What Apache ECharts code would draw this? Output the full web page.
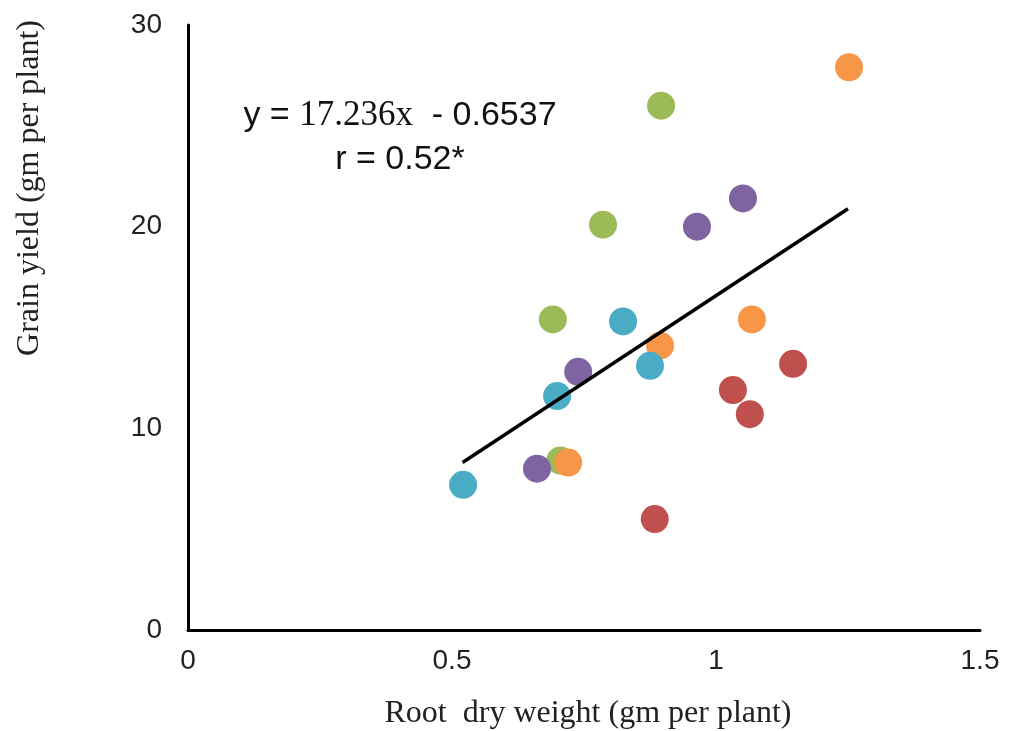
<!DOCTYPE html>
<html><head><meta charset="utf-8">
<script src="https://cdn.jsdelivr.net/npm/echarts@6/dist/echarts.min.js"></script>
<style>html,body{margin:0;padding:0;background:#fff}#c{width:1010px;height:731px}</style>
</head><body><div id="c"></div>
<script>
const xTicks = [0, 0.5, 1, 1.5];
const yTicks = [0, 10, 20, 30];
const green = [[0.896, 26.0], [0.786, 20.1], [0.691, 15.4], [0.705, 8.4]];
const orange = [[1.252, 27.9], [1.068, 15.4], [0.894, 14.1], [0.720, 8.3]];
const purple = [[1.051, 21.4], [0.964, 20.0], [0.739, 12.8], [0.661, 8.0]];
const blue = [[0.824, 15.3], [0.875, 13.1], [0.699, 11.6], [0.521, 7.2]];
const red = [[1.146, 13.2], [1.032, 11.9], [1.064, 10.7], [0.884, 5.5]];
const trend = [[0.52, 8.31], [1.25, 20.89]];
const eqLine1 = ['y = ', '17.236x', '  - 0.6537'];
const eqLine2 = 'r = 0.52*';
const xTitle = 'Root  dry weight (gm per plant)';
const yTitle = 'Grain yield (gm per plant)';

const chart = echarts.init(document.getElementById('c'));
function sc(data, color) {
  return { type: 'scatter', data: data, symbolSize: 28, z: 2,
    itemStyle: { color: color, opacity: 1 } };
}
chart.setOption({
  animation: false,
  grid: { left: 188, right: 30, top: 25, bottom: 101, containLabel: false },
  xAxis: { type: 'value', min: 0, max: 1.5, interval: 0.5,
    axisLine: { lineStyle: { color: '#000', width: 3 } },
    axisTick: { show: false }, splitLine: { show: false },
    axisLabel: { color: '#222', fontFamily: 'Liberation Sans, Arial', fontSize: 28, margin: 17,
      formatter: v => xTicks.includes(v) ? String(v) : '' } },
  yAxis: { type: 'value', min: 0, max: 30, interval: 10,
    axisLine: { show: true, lineStyle: { color: '#000', width: 3 } },
    axisTick: { show: false }, splitLine: { show: false },
    axisLabel: { color: '#222', fontFamily: 'Liberation Sans, Arial', fontSize: 28, margin: 26,
      formatter: v => yTicks.includes(v) ? String(v) : '' } },
  series: [
    sc(green, '#9BBB59'), sc(orange, '#F79646'), sc(purple, '#8064A2'),
    sc(blue, '#4BACC6'), sc(red, '#C0504D'),
    { type: 'line', data: trend, symbol: 'none', z: 5,
      lineStyle: { color: '#000', width: 3.5 } }
  ],
  graphic: [
    { type: 'text', x: 588, y: 714, z: 10,
      style: { text: xTitle, fill: '#222', font: '32px "Liberation Serif", "Times New Roman"',
        textAlign: 'center', textVerticalAlign: 'middle' } },
    { type: 'text', x: 30, y: 188, rotation: Math.PI / 2, z: 10,
      style: { text: yTitle, fill: '#222', font: '32px "Liberation Serif", "Times New Roman"',
        textAlign: 'center', textVerticalAlign: 'middle' } },
    { type: 'text', x: 400, y: 138, z: 10,
      style: {
        text: '{a|' + eqLine1[0] + '}{b|' + eqLine1[1] + '}{a|' + eqLine1[2] + '}\n{a|' + eqLine2 + '}',
        textAlign: 'center', textVerticalAlign: 'middle', fill: '#111',
        rich: {
          a: { fontFamily: 'Liberation Sans, Arial', fontSize: 34, lineHeight: 44, fill: '#111', align: 'center' },
          b: { fontFamily: 'Liberation Serif, Times New Roman', fontSize: 35, lineHeight: 44, fill: '#111' }
        } } }
  ]
});
</script></body></html>
